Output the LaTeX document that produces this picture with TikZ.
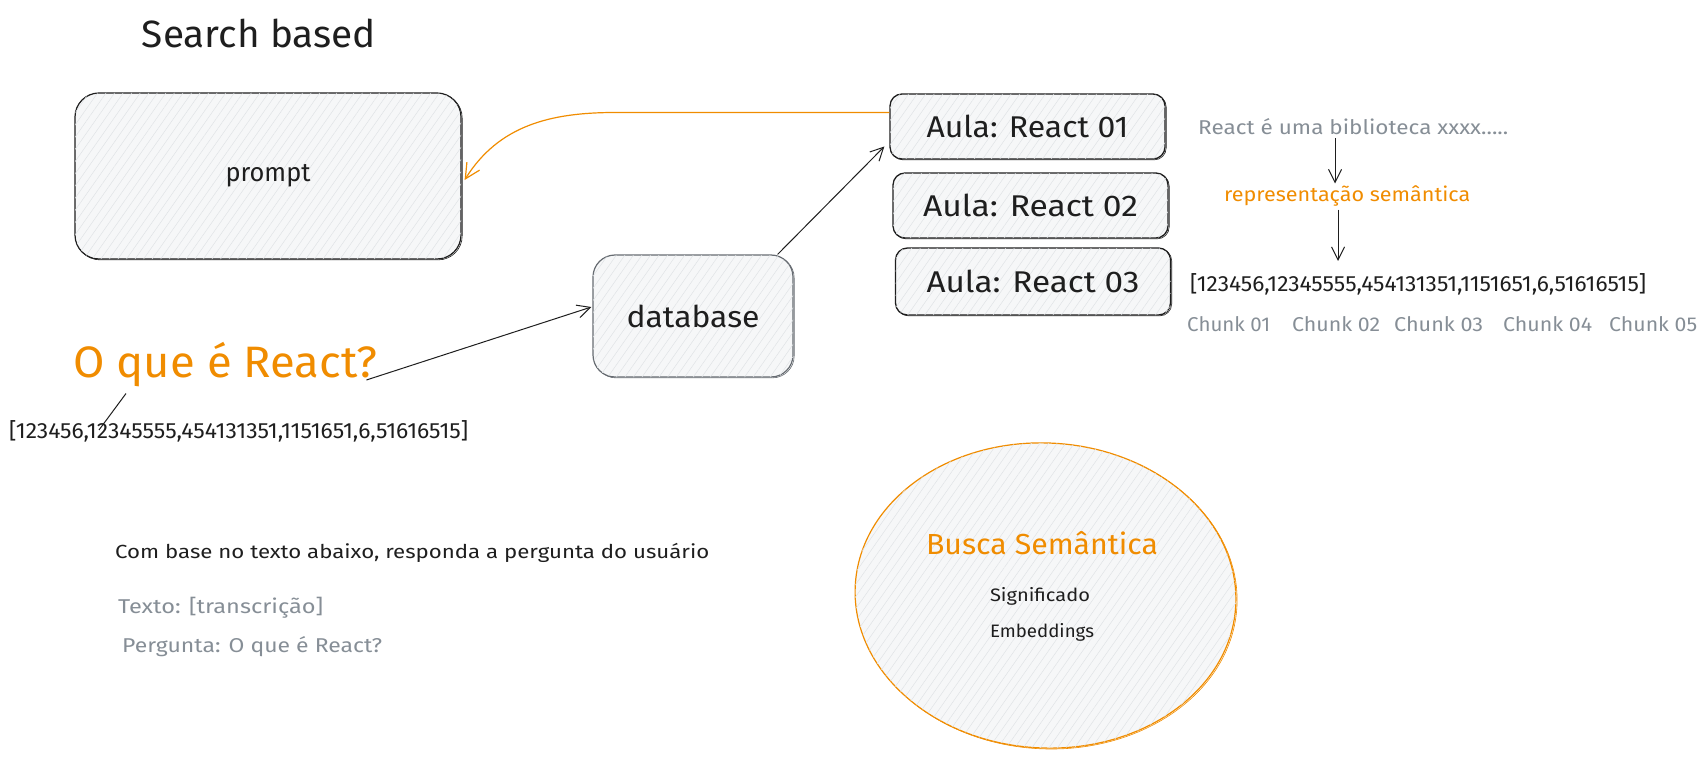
\documentclass[tikz,border=0pt]{standalone}
\usepackage{fontspec}
\usepackage{graphicx}
\setmainfont{Fira Sans}
\usetikzlibrary{arrows.meta,shapes.geometric,patterns.meta}
\definecolor{ink}{HTML}{1E1E1E}
\definecolor{orng}{HTML}{F08C00}
\definecolor{gtext}{HTML}{868E96}
\definecolor{boxfill}{HTML}{F6F7F8}
\definecolor{hatch}{HTML}{E0E3E6}
\newcommand{\fs}[1]{\fontsize{#1}{#1}\selectfont}
\newcommand{\fitw}[2]{\resizebox{#1}{\height}{#2}}
\tikzset{
  sketch/.style={fill=boxfill, postaction={pattern={Lines[angle=55,distance=7pt,line width=0.5pt]}, pattern color=hatch}},
  rough/.style={preaction={draw=#1, line width=0.6pt, transform canvas={xshift=1.2pt,yshift=-0.9pt}}},
  bigbox/.style={sketch, rough=ink, draw=ink, line width=1.2pt, rounded corners=24pt, inner sep=0pt},
  aulabox/.style={sketch, rough=ink, draw=ink, line width=1.3pt, rounded corners=12pt, minimum width=275pt, minimum height=65pt, inner sep=0pt, text=ink, font=\fs{30}},
  arr/.style={draw=ink, line width=1pt, -{Straight Barb[length=13pt,width=13pt]}},
  oarr/.style={draw=orng, line width=1.2pt, -{Straight Barb[length=15pt,width=15pt]}},
  lbl/.style={inner sep=0pt, anchor=west},
}
\begin{document}
\begin{tikzpicture}[x=1pt,y=-1pt]
\useasboundingbox (0,0) rectangle (1708,757);
% title
\node[inner sep=0pt, text=ink, font=\fs{38}] (title) at (259,33) {\fitw{234pt}{Search based}};
% prompt box
\node[bigbox, minimum width=386pt, minimum height=166pt, text=ink, font=\fs{26}] (prompt) at (268,176) {\fitw{85pt}{prompt}};
% database
\node[sketch, rough=gtext!70!ink, draw=gtext!70!ink, line width=1.2pt, rounded corners=22pt, minimum width=200pt, minimum height=122pt, inner sep=0pt, text=ink, font=\fs{30}] (db) at (693,316) {\fitw{133pt}{database}};
% aula boxes
\node[aulabox] (aula1) at (1027.5,126.5) {\fitw{202pt}{Aula: React 01}};
\node[aulabox] (aula2) at (1030.5,205.5) {\fitw{215pt}{Aula: React 02}};
\node[aulabox, minimum height=67pt] (aula3) at (1033,281.5) {\fitw{213pt}{Aula: React 03}};
% right side texts
\node[lbl, text=gtext, font=\fs{20}] (desc) at (1198,127) {\fitw{310pt}{React é uma biblioteca xxxx.....}};
\node[lbl, text=orng, font=\fs{20}] (rep) at (1224,196) {\fitw{246pt}{representação semântica}};
\node[lbl, text=ink, font=\fs{22}] (vec1) at (1190,284) {\fitw{456pt}{[123456,12345555,454131351,1151651,6,51616515]}};
\node[lbl, text=gtext, font=\fs{20}] (c1) at (1187,324) {\fitw{83pt}{Chunk 01}};
\node[lbl, text=gtext, font=\fs{20}] (c2) at (1292,324) {\fitw{88pt}{Chunk 02}};
\node[lbl, text=gtext, font=\fs{20}] (c3) at (1394,324) {\fitw{89pt}{Chunk 03}};
\node[lbl, text=gtext, font=\fs{20}] (c4) at (1503,324) {\fitw{89pt}{Chunk 04}};
\node[lbl, text=gtext, font=\fs{20}] (c5) at (1609,324) {\fitw{88pt}{Chunk 05}};
\coordinate (ax) at (1335,0);
\coordinate (bx) at (1338,0);
\draw[arr] ([yshift=-3pt]desc.south -| ax) -- ([yshift=2pt]rep.north -| ax);
\draw[arr] ([yshift=-3pt]rep.south -| bx) -- ([yshift=12pt]vec1.north -| bx);
% question
\node[lbl, text=orng, font=\fs{44}] (question) at (73,365) {\fitw{304pt}{O que é React?}};
\node[lbl, text=ink, font=\fs{22}] (vec2) at (9,431) {\fitw{459pt}{[123456,12345555,454131351,1151651,6,51616515]}};
\draw[ink, line width=1pt] ([xshift=53pt,yshift=-6pt]question.south west) -- ([xshift=90pt,yshift=-10pt]vec2.north west);
% bottom-left texts
\node[lbl, text=ink, font=\fs{19}] (instr) at (115,553) {\fitw{594pt}{Com base no texto abaixo, responda a pergunta do usuário}};
\node[lbl, text=gtext, font=\fs{20}] (texto) at (118,608) {\fitw{205pt}{Texto: [transcrição]}};
\node[lbl, text=gtext, font=\fs{20}] (perg) at (122,647) {\fitw{260pt}{Pergunta: O que é React?}};
% ellipse
\node[ellipse, sketch, rough=orng, draw=orng, line width=1.2pt, minimum width=381pt, minimum height=305pt, inner sep=0pt, rotate=-3] (busca) at (1045.5,595.5) {};
\node[inner sep=0pt, text=orng, font=\fs{29}] (bt) at (1042,543) {\fitw{232pt}{Busca Semântica}};
\node[inner sep=0pt, text=ink, font=\fs{18}] (sig) at (1040,596) {\fitw{100pt}{Significado}};
\node[inner sep=0pt, text=ink, font=\fs{18}] (emb) at (1042,632) {\fitw{104pt}{Embeddings}};
% connectors
\draw[arr] ([xshift=-11pt,yshift=-15pt]question.east) -- ([xshift=-1pt,yshift=9pt]db.west);
\draw[arr] ([xshift=-16pt]db.north east) -- ([xshift=-5pt,yshift=-20pt]aula1.west);
\draw[oarr] ([yshift=14pt]aula1.west) -- (615,112.5) to[out=180,in=58] ([xshift=3pt,yshift=-4pt]prompt.east);
\end{tikzpicture}
\end{document}
